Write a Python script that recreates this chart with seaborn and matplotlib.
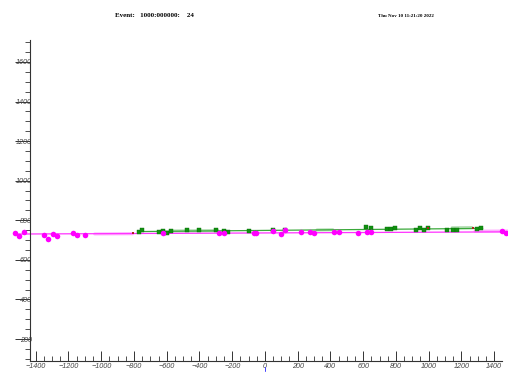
import matplotlib
matplotlib.use("Agg")
import matplotlib.pyplot as plt
from matplotlib.ticker import MultipleLocator, FuncFormatter
import seaborn as sns
import pandas as pd

# Hits on the magenta (pink) track
pink_x = [-1524, -1500, -1469, -1349, -1326, -1297, -1271, -1172, -1148, -1101,
          -624, -279, -250, -68, -53, 47, 100, 121, 223, 276, 301, 422, 450,
          571, 622, 645, 1445, 1471]
pink_y = [734, 721, 739, 724, 706, 733, 721, 736, 726, 726,
          734, 734, 734, 734, 736, 746, 731, 749, 741, 741, 736, 741, 739,
          736, 741, 741, 746, 738]

# Hits on the green track
green_x = [-771, -749, -649, -624, -600, -575, -473, -401, -297, -252, -227, -100,
           47, 121, 620, 645, 747, 771, 796, 923, 945, 970, 994, 1115, 1146, 1175,
           1297, 1322]
green_y = [743, 751, 743, 748, 736, 746, 751, 751, 751, 746, 743, 748,
           750, 752, 766, 761, 755, 755, 761, 749, 761, 749, 761, 751, 751, 753,
           755, 761]

# Small shared hits
red_x = [-804, 994, 1269]
red_y = [736, 761, 760]

# Fitted track lines
pink_line_x = [-1530, 1480]
pink_line_y = [730.5, 741.5]
green_line_x = [-771, 1330]
green_line_y = [743, 759]

# Faint track segments
pink_band_x = [[-1040, -808], [1283, 1485]]
pink_band_y = [[731, 732], [745, 746]]
green_band_x = [[-570, -287], [318, 415], [1143, 1265]]
green_band_y = [[746, 748], [751, 752], [762, 763]]

x_range = (-1435, 1448)
y_range = (89, 1711)

sns.set_theme(style="white")
plt.rcParams["font.family"] = ["Liberation Sans", "DejaVu Sans"]

fig = plt.figure(figsize=(5.08, 3.74), dpi=100)
ax = fig.add_axes([30 / 508, 13 / 374, 472 / 508, 321 / 374])

for bx, by in zip(pink_band_x, pink_band_y):
    sns.lineplot(x=bx, y=by, ax=ax, color="#ffb0ff", lw=2.2, sort=False,
                 estimator=None, clip_on=False)
for bx, by in zip(green_band_x, green_band_y):
    sns.lineplot(x=bx, y=by, ax=ax, color="#b0dcb0", lw=2.2, sort=False,
                 estimator=None, clip_on=False)

sns.lineplot(x=pink_line_x, y=pink_line_y, ax=ax, color="#ff33ff", lw=0.9,
             sort=False, estimator=None, clip_on=False)
sns.lineplot(x=green_line_x, y=green_line_y, ax=ax, color="#3aa83a", lw=0.9,
             sort=False, estimator=None, clip_on=False)

green_df = pd.DataFrame({"x": green_x, "y": green_y})
pink_df = pd.DataFrame({"x": pink_x, "y": pink_y})
red_df = pd.DataFrame({"x": red_x, "y": red_y})

sns.scatterplot(data=green_df, x="x", y="y", ax=ax, marker="s", s=9,
                color="#109010", edgecolor="#0a700a", linewidth=0.3,
                clip_on=False, zorder=4)
sns.scatterplot(data=pink_df, x="x", y="y", ax=ax, marker="o", s=16,
                color="#ff00ff", edgecolor="#ff00ff", linewidth=0,
                clip_on=False, zorder=5)
sns.scatterplot(data=red_df, x="x", y="y", ax=ax, marker="s", s=3,
                color="#b02020", edgecolor="#902020", linewidth=0,
                clip_on=False, zorder=6)

ax.set_xlim(*x_range)
ax.set_ylim(*y_range)
ax.set_xlabel("")
ax.set_ylabel("")

for side in ("top", "right"):
    ax.spines[side].set_visible(False)
for side in ("left", "bottom"):
    ax.spines[side].set_color("#333333")
    ax.spines[side].set_linewidth(0.8)

ax.xaxis.set_major_locator(MultipleLocator(200))
ax.xaxis.set_minor_locator(MultipleLocator(50))
ax.yaxis.set_major_locator(MultipleLocator(200))
ax.yaxis.set_minor_locator(MultipleLocator(50))
ax.yaxis.set_major_formatter(FuncFormatter(lambda v, p: f"{int(v)}"))

ax.tick_params(axis="x", which="major", direction="in", length=7.2, width=0.7,
               color="#333333", pad=1.5, labelsize=5.2, labelcolor="#444444",
               bottom=True)
ax.tick_params(axis="x", which="minor", direction="in", length=3.6, width=0.6,
               color="#333333", bottom=True)
ax.tick_params(axis="y", which="major", direction="out", length=10.8, width=0.7,
               color="#333333", pad=-12.2, labelsize=5.2, labelcolor="#444444",
               left=True)
ax.tick_params(axis="y", which="minor", direction="out", length=3.6, width=0.6,
               color="#333333", left=True)
for lab in ax.get_xticklabels() + ax.get_yticklabels():
    lab.set_fontstyle("italic")

# tiny marker under the origin
ax.plot([0, 0], [57, 40], color="#4040ff", lw=0.7, clip_on=False)

fig.text(154 / 508, 1 - 15.7 / 374, "Event:   1000:000000:    24",
         ha="center", va="center", fontsize=5, fontweight="bold",
         family=["Liberation Serif", "DejaVu Serif"], color="black")
fig.text(405.5 / 508, 1 - 16 / 374, "Thu Nov 10 11:21:20 2022",
         ha="center", va="center", fontsize=3.6, fontweight="bold",
         family=["Liberation Serif", "DejaVu Serif"], color="black")

fig.savefig("out.png", dpi=100, facecolor="white")
